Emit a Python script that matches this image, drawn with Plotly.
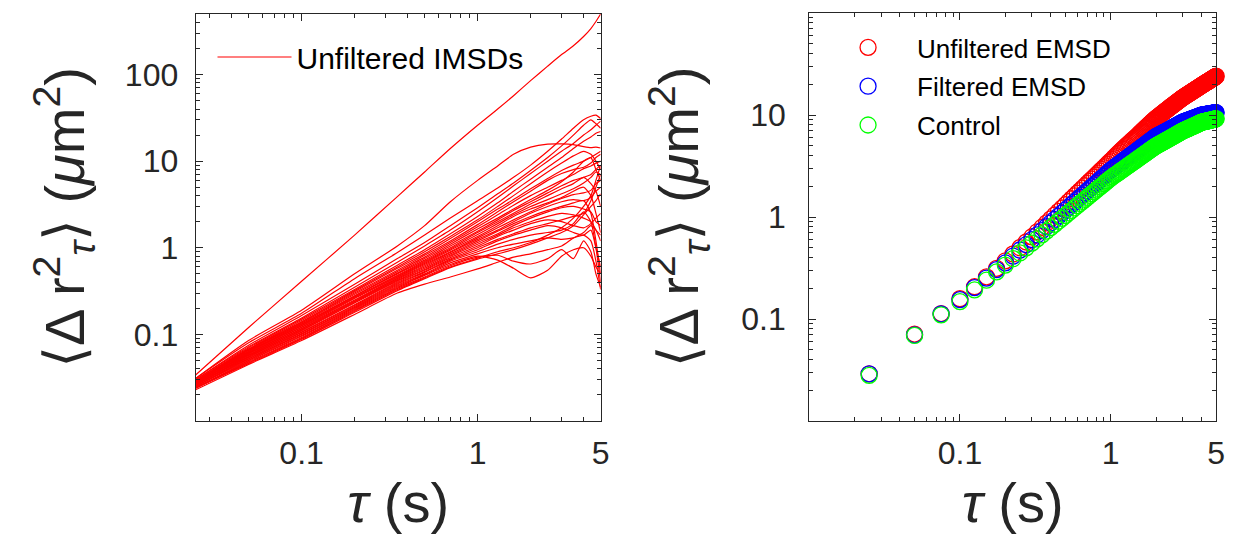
import plotly.graph_objects as go
from plotly.subplots import make_subplots

FONT = "Arial, Liberation Sans, DejaVu Sans, sans-serif"
AXIS_COLOR = "#262626"

# ---------------- left panel: individual MSD curves (unfiltered) ----------------
T_IMSD = [0.025, 0.05, 0.1, 0.2, 0.35, 0.5, 0.7, 1.0, 1.3, 1.6, 2.0, 2.5, 3.0, 3.5, 4.0, 4.4, 4.7, 5.0]

IMSD_01 = [0.034, 0.12, 0.41, 1.4, 3.9, 7.5, 14, 26, 40, 57, 85, 125, 170, 215, 275, 340, 410, 500]
IMSD_02 = [0.031, 0.085, 0.19, 0.5, 1.05, 1.8, 3.4, 6.0, 8.8, 12, 14.5, 15.7, 15.8, 15.5, 14.7, 14.3, 14.5, 14.2]
IMSD_03 = [0.031, 0.08, 0.175, 0.44, 0.88, 1.4, 2.2, 3.5, 4.9, 6.5, 9.0, 13, 18, 24, 30, 33, 34, 31]
IMSD_04 = [0.030, 0.075, 0.165, 0.38, 0.75, 1.15, 1.8, 2.9, 4.2, 5.6, 7.8, 11, 15, 20, 26, 30, 27, 24]
IMSD_05 = [0.030, 0.072, 0.155, 0.35, 0.68, 1.05, 1.6, 2.6, 3.8, 5.2, 7.2, 10, 13, 16, 20, 23, 26, 29]
IMSD_06 = [0.029, 0.070, 0.150, 0.33, 0.63, 0.95, 1.45, 2.3, 3.3, 4.5, 6.2, 8.5, 11, 14, 17, 19, 21, 22]
IMSD_07 = [0.029, 0.068, 0.145, 0.32, 0.60, 0.90, 1.35, 2.1, 3.0, 4.0, 5.5, 7.5, 9.5, 11.5, 13, 12, 10, 8]
IMSD_08 = [0.029, 0.067, 0.140, 0.31, 0.58, 0.85, 1.28, 2.0, 2.8, 3.6, 4.8, 6.3, 7.8, 9.0, 10, 11, 12, 13]
IMSD_09 = [0.028, 0.066, 0.138, 0.30, 0.55, 0.82, 1.2, 1.85, 2.6, 3.4, 4.5, 6.0, 7.2, 8.0, 8.5, 9.5, 11, 12]
IMSD_10 = [0.028, 0.065, 0.135, 0.29, 0.53, 0.78, 1.15, 1.75, 2.4, 3.1, 4.0, 5.0, 6.0, 7.0, 8.2, 8.8, 9.5, 10]
IMSD_11 = [0.028, 0.064, 0.132, 0.28, 0.51, 0.75, 1.1, 1.65, 2.2, 2.8, 3.6, 4.6, 5.8, 7.5, 10, 11, 8, 6]
IMSD_12 = [0.028, 0.063, 0.130, 0.275, 0.50, 0.72, 1.05, 1.55, 2.1, 2.7, 3.4, 4.3, 5.2, 6.0, 6.5, 7.0, 8.0, 9.0]
IMSD_13 = [0.027, 0.062, 0.127, 0.27, 0.48, 0.70, 1.0, 1.5, 2.0, 2.5, 3.2, 4.0, 4.8, 5.5, 6.5, 5.5, 4.5, 3.0]
IMSD_14 = [0.027, 0.061, 0.125, 0.265, 0.47, 0.68, 0.97, 1.42, 1.9, 2.4, 3.0, 3.6, 4.2, 4.8, 5.6, 6.5, 7.5, 7.0]
IMSD_15 = [0.027, 0.060, 0.122, 0.26, 0.46, 0.66, 0.94, 1.35, 1.8, 2.3, 2.8, 3.3, 3.8, 4.5, 5.0, 4.0, 2.5, 1.5]
IMSD_16 = [0.027, 0.059, 0.120, 0.25, 0.45, 0.64, 0.90, 1.3, 1.7, 2.1, 2.6, 3.2, 3.7, 4.1, 4.3, 4.6, 5.5, 6.0]
IMSD_17 = [0.026, 0.058, 0.117, 0.245, 0.44, 0.62, 0.88, 1.25, 1.6, 2.0, 2.5, 3.0, 3.4, 3.6, 3.5, 3.8, 4.5, 5.0]
IMSD_18 = [0.026, 0.057, 0.115, 0.24, 0.43, 0.60, 0.85, 1.2, 1.55, 1.9, 2.3, 2.7, 3.0, 3.3, 3.5, 2.5, 1.2, 0.5]
IMSD_19 = [0.026, 0.056, 0.112, 0.235, 0.42, 0.58, 0.82, 1.15, 1.45, 1.8, 2.2, 2.6, 2.9, 3.0, 2.8, 2.6, 2.0, 1.8]
IMSD_20 = [0.026, 0.055, 0.110, 0.23, 0.41, 0.56, 0.80, 1.1, 1.4, 1.7, 2.0, 2.3, 2.5, 2.4, 2.2, 2.0, 1.6, 1.2]
IMSD_21 = [0.025, 0.054, 0.107, 0.22, 0.40, 0.55, 0.77, 1.05, 1.35, 1.6, 1.9, 2.1, 2.0, 1.8, 1.7, 1.9, 2.2, 2.5]
IMSD_22 = [0.025, 0.053, 0.105, 0.215, 0.39, 0.53, 0.74, 1.0, 1.25, 1.45, 1.7, 1.9, 2.1, 2.3, 2.5, 3.5, 5.0, 7.0]
IMSD_23 = [0.025, 0.052, 0.102, 0.21, 0.38, 0.52, 0.72, 0.95, 1.2, 1.4, 1.6, 1.8, 1.7, 1.5, 1.4, 1.6, 1.0, 0.6]
IMSD_24 = [0.025, 0.051, 0.100, 0.205, 0.37, 0.50, 0.70, 0.90, 1.1, 1.25, 1.4, 1.5, 1.6, 1.9, 2.6, 2.0, 1.0, 0.4]
IMSD_25 = [0.024, 0.050, 0.097, 0.20, 0.36, 0.49, 0.67, 0.85, 1.0, 1.1, 1.2, 1.3, 1.25, 1.3, 1.4, 1.2, 0.7, 0.33]
IMSD_26 = [0.024, 0.049, 0.095, 0.195, 0.35, 0.48, 0.64, 0.80, 0.72, 0.58, 0.45, 0.55, 0.80, 0.95, 1.0, 0.8, 0.6, 0.5]
IMSD_27 = [0.024, 0.048, 0.092, 0.19, 0.34, 0.46, 0.62, 0.78, 0.82, 0.70, 0.65, 0.75, 0.95, 0.75, 1.2, 0.9, 0.5, 0.35]
IMSD_28 = [0.024, 0.047, 0.090, 0.185, 0.33, 0.45, 0.60, 0.76, 0.90, 1.0, 1.15, 1.4, 1.7, 2.2, 3.0, 4.0, 6.0, 9.0]
IMSD_29 = [0.024, 0.046, 0.088, 0.18, 0.32, 0.44, 0.59, 0.74, 0.85, 0.95, 1.1, 1.3, 1.5, 1.8, 2.4, 3.0, 3.5, 4.2]
IMSD_30 = [0.023, 0.045, 0.085, 0.17, 0.30, 0.38, 0.46, 0.57, 0.68, 0.78, 0.85, 0.95, 1.05, 1.3, 1.5, 1.8, 1.6, 1.4]

IMSD_CURVES = [IMSD_01, IMSD_02, IMSD_03, IMSD_04, IMSD_05, IMSD_06, IMSD_07, IMSD_08, IMSD_09, IMSD_10,
               IMSD_11, IMSD_12, IMSD_13, IMSD_14, IMSD_15, IMSD_16, IMSD_17, IMSD_18, IMSD_19, IMSD_20,
               IMSD_21, IMSD_22, IMSD_23, IMSD_24, IMSD_25, IMSD_26, IMSD_27, IMSD_28, IMSD_29, IMSD_30]

# ---------------- right panel: ensemble MSDs ----------------
FRAME_DT = 0.025          # s per frame
LAG_FRAMES = list(range(1, 201))
TAU_EMSD = [k * FRAME_DT for k in LAG_FRAMES]

EMSD_UNFILTERED = [
    0.029, 0.071, 0.113, 0.158, 0.207, 0.259, 0.314, 0.372, 0.434, 0.500,
    0.569, 0.640, 0.716, 0.793, 0.874, 0.959, 1.046, 1.135, 1.225, 1.318,
    1.413, 1.510, 1.610, 1.711, 1.813, 1.918, 2.024, 2.133, 2.242, 2.353,
    2.466, 2.581, 2.697, 2.815, 2.934, 3.055, 3.177, 3.300, 3.425, 3.551,
    3.68, 3.82, 3.95, 4.09, 4.22, 4.36, 4.49, 4.63, 4.76, 4.90,
    5.03, 5.16, 5.30, 5.43, 5.57, 5.70, 5.84, 5.97, 6.11, 6.24,
    6.39, 6.55, 6.70, 6.85, 7.01, 7.16, 7.31, 7.46, 7.62, 7.77,
    7.92, 8.08, 8.23, 8.38, 8.54, 8.69, 8.84, 8.99, 9.15, 9.30,
    9.44, 9.58, 9.71, 9.85, 9.99, 10.13, 10.26, 10.40, 10.54, 10.68,
    10.81, 10.95, 11.09, 11.23, 11.36, 11.50, 11.64, 11.78, 11.91, 12.05,
    12.19, 12.33, 12.46, 12.60, 12.74, 12.88, 13.01, 13.15, 13.29, 13.43,
    13.56, 13.70, 13.84, 13.98, 14.11, 14.25, 14.39, 14.53, 14.66, 14.80,
    14.92, 15.04, 15.15, 15.27, 15.39, 15.51, 15.62, 15.74, 15.86, 15.98,
    16.09, 16.21, 16.33, 16.45, 16.56, 16.68, 16.80, 16.92, 17.03, 17.15,
    17.27, 17.39, 17.50, 17.62, 17.74, 17.86, 17.97, 18.09, 18.21, 18.33,
    18.44, 18.56, 18.68, 18.80, 18.91, 19.03, 19.15, 19.27, 19.38, 19.50,
    19.61, 19.73, 19.84, 19.95, 20.06, 20.18, 20.29, 20.40, 20.51, 20.63,
    20.74, 20.85, 20.96, 21.08, 21.19, 21.30, 21.41, 21.53, 21.64, 21.75,
    21.86, 21.98, 22.09, 22.20, 22.31, 22.43, 22.54, 22.65, 22.76, 22.88,
    22.99, 23.10, 23.21, 23.33, 23.44, 23.55, 23.66, 23.78, 23.89, 24.00,
]

EMSD_FILTERED = [
    0.029, 0.070, 0.112, 0.155, 0.203, 0.252, 0.305, 0.355, 0.414, 0.474,
    0.537, 0.601, 0.667, 0.735, 0.804, 0.874, 0.946, 1.019, 1.093, 1.168,
    1.245, 1.322, 1.401, 1.481, 1.562, 1.643, 1.726, 1.809, 1.894, 1.979,
    2.065, 2.152, 2.240, 2.329, 2.418, 2.508, 2.600, 2.691, 2.784, 2.877,
    2.96, 3.04, 3.12, 3.20, 3.28, 3.36, 3.44, 3.52, 3.60, 3.68,
    3.77, 3.85, 3.93, 4.01, 4.09, 4.17, 4.25, 4.33, 4.41, 4.49,
    4.57, 4.66, 4.74, 4.83, 4.91, 4.99, 5.08, 5.16, 5.25, 5.33,
    5.41, 5.50, 5.58, 5.67, 5.75, 5.83, 5.92, 6.00, 6.09, 6.17,
    6.23, 6.29, 6.35, 6.41, 6.47, 6.52, 6.58, 6.64, 6.70, 6.76,
    6.82, 6.88, 6.94, 7.00, 7.06, 7.11, 7.17, 7.23, 7.29, 7.35,
    7.41, 7.47, 7.53, 7.59, 7.65, 7.70, 7.76, 7.82, 7.88, 7.94,
    8.00, 8.06, 8.12, 8.18, 8.24, 8.29, 8.35, 8.41, 8.47, 8.53,
    8.57, 8.60, 8.64, 8.68, 8.71, 8.75, 8.79, 8.82, 8.86, 8.90,
    8.93, 8.97, 9.00, 9.04, 9.08, 9.11, 9.15, 9.19, 9.22, 9.26,
    9.30, 9.33, 9.37, 9.41, 9.44, 9.48, 9.52, 9.55, 9.59, 9.63,
    9.66, 9.70, 9.73, 9.77, 9.81, 9.84, 9.88, 9.92, 9.95, 9.99,
    10.00, 10.02, 10.03, 10.05, 10.06, 10.08, 10.09, 10.10, 10.12, 10.13,
    10.15, 10.16, 10.18, 10.19, 10.20, 10.22, 10.23, 10.25, 10.26, 10.28,
    10.29, 10.30, 10.32, 10.33, 10.35, 10.36, 10.38, 10.39, 10.41, 10.42,
    10.43, 10.45, 10.46, 10.48, 10.49, 10.51, 10.52, 10.53, 10.55, 10.56,
]

EMSD_CONTROL = [
    0.028, 0.069, 0.110, 0.148, 0.193, 0.240, 0.290, 0.338, 0.390, 0.444,
    0.498, 0.554, 0.611, 0.669, 0.728, 0.787, 0.848, 0.909, 0.971, 1.034,
    1.097, 1.161, 1.226, 1.291, 1.357, 1.424, 1.491, 1.558, 1.627, 1.695,
    1.764, 1.834, 1.904, 1.975, 2.046, 2.118, 2.190, 2.262, 2.335, 2.408,
    2.47, 2.54, 2.60, 2.66, 2.73, 2.79, 2.86, 2.92, 2.98, 3.05,
    3.11, 3.17, 3.24, 3.30, 3.37, 3.43, 3.49, 3.56, 3.62, 3.69,
    3.75, 3.82, 3.88, 3.95, 4.01, 4.08, 4.14, 4.21, 4.27, 4.34,
    4.41, 4.47, 4.54, 4.60, 4.67, 4.73, 4.80, 4.86, 4.93, 4.99,
    5.04, 5.09, 5.14, 5.19, 5.24, 5.29, 5.34, 5.39, 5.44, 5.49,
    5.54, 5.59, 5.64, 5.69, 5.74, 5.79, 5.84, 5.89, 5.94, 5.99,
    6.04, 6.09, 6.14, 6.19, 6.24, 6.29, 6.34, 6.39, 6.44, 6.49,
    6.54, 6.59, 6.64, 6.69, 6.74, 6.79, 6.84, 6.89, 6.94, 6.99,
    7.03, 7.07, 7.10, 7.14, 7.18, 7.22, 7.25, 7.29, 7.33, 7.37,
    7.41, 7.44, 7.48, 7.52, 7.56, 7.59, 7.63, 7.67, 7.71, 7.75,
    7.78, 7.82, 7.86, 7.90, 7.93, 7.97, 8.01, 8.05, 8.08, 8.12,
    8.16, 8.20, 8.24, 8.27, 8.31, 8.35, 8.39, 8.42, 8.46, 8.50,
    8.52, 8.54, 8.55, 8.57, 8.59, 8.61, 8.62, 8.64, 8.66, 8.68,
    8.69, 8.71, 8.73, 8.75, 8.76, 8.78, 8.80, 8.82, 8.83, 8.85,
    8.87, 8.89, 8.90, 8.92, 8.94, 8.96, 8.97, 8.99, 9.01, 9.03,
    9.04, 9.06, 9.08, 9.10, 9.11, 9.13, 9.15, 9.17, 9.18, 9.20,
]

EMSD_NAMES = ["Unfiltered EMSD", "Filtered EMSD", "Control"]
EMSD_COLORS = ["#ff0000", "#0000ff", "#00ff00"]

# tick positions
X_TICKS = [0.1, 1, 5]
X_TICKTEXT = ["0.1", "1", "5"]
Y_TICKS_L = [0.1, 1, 10, 100]
Y_TICKS_R = [0.1, 1, 10]


def minor_vals(lo, hi):
    out = []
    dec = 1e-3
    while dec < hi:
        for m in range(2, 10):
            v = m * dec
            if lo < v < hi:
                out.append(round(v, 6))
        dec *= 10
    return out


fig = make_subplots(rows=1, cols=2)

for i, ys in enumerate(IMSD_CURVES):
    fig.add_trace(go.Scatter(
        x=T_IMSD, y=ys, mode="lines",
        line=dict(color="#ff0000", width=1.2, shape="spline", smoothing=0.6),
        name="Unfiltered IMSDs", legendgroup="imsd", showlegend=(i == 0),
        legend="legend",
    ), row=1, col=1)

for name, ys, col in zip(EMSD_NAMES, [EMSD_UNFILTERED, EMSD_FILTERED, EMSD_CONTROL], EMSD_COLORS):
    fig.add_trace(go.Scatter(
        x=TAU_EMSD, y=ys, mode="markers", name=name, legendgroup=name,
        marker=dict(symbol="circle-open", size=16, color=col, line=dict(color=col, width=1.3)),
        cliponaxis=False, legend="legend2",
    ), row=1, col=2)

W, H = 1237, 546
axis_common = dict(
    type="log", showline=True, linecolor=AXIS_COLOR, linewidth=1, mirror="allticks",
    ticks="inside", ticklen=7, tickcolor=AXIS_COLOR, tickwidth=1,
    showgrid=False, zeroline=False,
    tickfont=dict(family=FONT, size=32, color=AXIS_COLOR),
)
minor_style = dict(ticks="inside", ticklen=4, tickcolor=AXIS_COLOR, tickwidth=1, showgrid=False)
title_font = dict(family=FONT, size=56, color=AXIS_COLOR)
ytitle = "⟨Δ r<sup>2</sup><sub><i>τ</i></sub>⟩ (<i>μ</i>m<sup>2</sup>)"
xtitle = "<i>τ</i> (s)"

fig.update_xaxes(axis_common)
fig.update_yaxes(axis_common)

fig.update_layout(
    xaxis=dict(domain=[189 / W, 597 / W], range=[-1.602, 0.699],
               tickvals=X_TICKS, ticktext=X_TICKTEXT, ticklabelstandoff=4,
               minor=dict(minor_style, tickvals=minor_vals(0.025, 5)),
               title=dict(text=xtitle, font=title_font, standoff=12)),
    yaxis=dict(domain=[(H - 413) / H, (H - 6) / H], range=[-2, 2.699],
               tickvals=Y_TICKS_L, ticktext=["0.1", "1", "10", "100"], ticklabelstandoff=10,
               minor=dict(minor_style, tickvals=minor_vals(0.01, 500)),
               title=dict(text=ytitle, font=title_font, standoff=22)),
    xaxis2=dict(domain=[807 / W, 1217 / W], range=[-2, 0.699],
                tickvals=X_TICKS, ticktext=X_TICKTEXT, ticklabelstandoff=4,
                minor=dict(minor_style, tickvals=minor_vals(0.01, 5)),
                title=dict(text=xtitle, font=title_font, standoff=12)),
    yaxis2=dict(domain=[(H - 413) / H, (H - 5) / H], range=[-2, 2],
                tickvals=Y_TICKS_R, ticktext=["0.1", "1", "10"], ticklabelstandoff=16,
                minor=dict(minor_style, tickvals=minor_vals(0.01, 100)),
                title=dict(text=ytitle, font=title_font, standoff=24)),
    legend=dict(x=206 / W, xanchor="left", y=(H - 49) / H, yanchor="middle", itemwidth=74,
                bgcolor="rgba(0,0,0,0)", font=dict(family=FONT, size=30, color="black")),
    legend2=dict(x=817 / W, xanchor="left", y=(H - 16) / H, yanchor="top", itemwidth=88,
                 tracegroupgap=2,
                 bgcolor="rgba(0,0,0,0)", font=dict(family=FONT, size=26, color="black")),
    width=W, height=H,
    margin=dict(l=0, r=0, t=0, b=0),
    plot_bgcolor="white", paper_bgcolor="white",
    font=dict(family=FONT),
)

fig.write_html("out.html")
